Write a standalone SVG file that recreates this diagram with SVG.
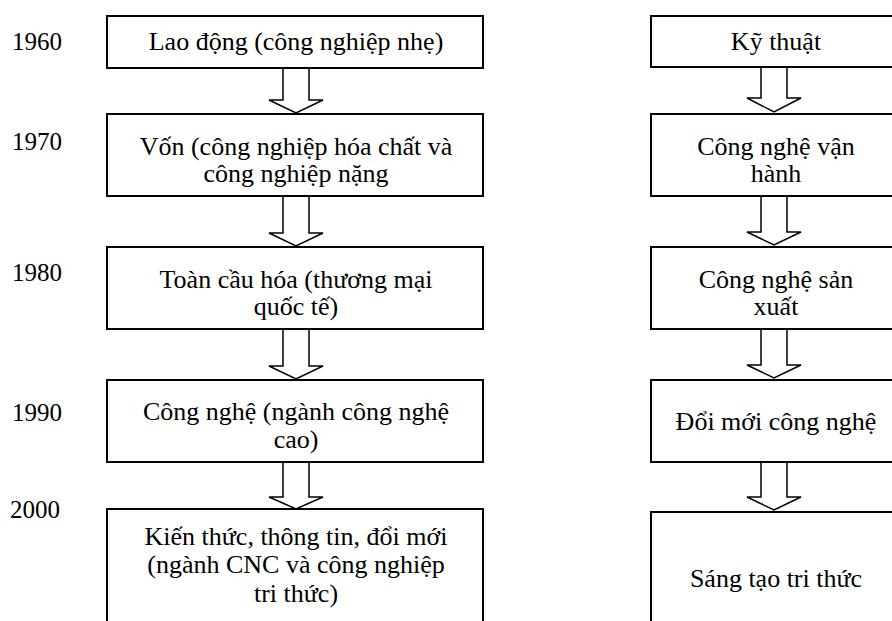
<svg xmlns="http://www.w3.org/2000/svg" width="892" height="621" viewBox="0 0 892 621">
<style>
.box{fill:#fff;stroke:#000;stroke-width:2}
.arr{fill:#fff;stroke:#000;stroke-width:1.5;stroke-linejoin:miter}
text{font-family:'Liberation Serif','DejaVu Serif',serif;font-size:26px;fill:#000}
.yr{font-size:25px}
.c{text-anchor:middle}
</style>
<rect width="892" height="621" fill="#fff"/>
<g id="years">
<text class="yr" x="12" y="50">1960</text>
<text class="yr" x="12" y="150">1970</text>
<text class="yr" x="12" y="281">1980</text>
<text class="yr" x="12" y="421">1990</text>
<text class="yr" x="10" y="518">2000</text>
</g>
<g id="connectors">
<polygon class="arr" points="283,68 309,68 309,100 323,100 296,113 269,100 283,100"/>
<polygon class="arr" points="283,196 309,196 309,233 323,233 296,246 269,233 283,233"/>
<polygon class="arr" points="283,329 309,329 309,366 323,366 296,379 269,366 283,366"/>
<polygon class="arr" points="283,462 309,462 309,497 323,497 296,509 269,497 283,497"/>
<polygon class="arr" points="761,67 787,67 787,98 801,98 774,112 747,98 761,98"/>
<polygon class="arr" points="761,196 787,196 787,232 801,232 774,245 747,232 761,232"/>
<polygon class="arr" points="761,329 787,329 787,365 801,365 774,378 747,365 761,365"/>
<polygon class="arr" points="761,462 787,462 787,497 801,497 774,510 747,497 761,497"/>
</g>
<g id="n1960">
<rect class="box" x="107" y="16" width="376" height="52"/>
<text class="c" x="296" y="50">Lao động (công nghiệp nhẹ)</text>
</g>
<g id="n1970">
<rect class="box" x="107" y="114" width="376" height="82"/>
<text class="c" x="296" y="155">Vốn (công nghiệp hóa chất và</text>
<text class="c" x="296" y="182">công nghiệp nặng</text>
</g>
<g id="n1980">
<rect class="box" x="107" y="247" width="376" height="82"/>
<text class="c" x="296" y="288">Toàn cầu hóa (thương mại</text>
<text class="c" x="296" y="315">quốc tế)</text>
</g>
<g id="n1990">
<rect class="box" x="107" y="380" width="376" height="82"/>
<text class="c" x="296" y="420">Công nghệ (ngành công nghệ</text>
<text class="c" x="296" y="448">cao)</text>
</g>
<g id="n2000">
<rect class="box" x="107" y="509" width="376" height="130"/>
<text class="c" x="296" y="545">Kiến thức, thông tin, đổi mới</text>
<text class="c" x="296" y="573">(ngành CNC và công nghiệp</text>
<text class="c" x="296" y="602">tri thức)</text>
</g>
<g id="r1">
<rect class="box" x="651" y="16" width="250" height="51"/>
<text class="c" x="776" y="50">Kỹ thuật</text>
</g>
<g id="r2">
<rect class="box" x="651" y="114" width="250" height="82"/>
<text class="c" x="776" y="155">Công nghệ vận</text>
<text class="c" x="776" y="182">hành</text>
</g>
<g id="r3">
<rect class="box" x="651" y="247" width="250" height="82"/>
<text class="c" x="776" y="288">Công nghệ sản</text>
<text class="c" x="776" y="315">xuất</text>
</g>
<g id="r4">
<rect class="box" x="651" y="380" width="250" height="82"/>
<text class="c" x="776" y="430">Đổi mới công nghệ</text>
</g>
<g id="r5">
<rect class="box" x="651" y="512" width="250" height="130"/>
<text class="c" x="776" y="587">Sáng tạo tri thức</text>
</g>
</svg>
